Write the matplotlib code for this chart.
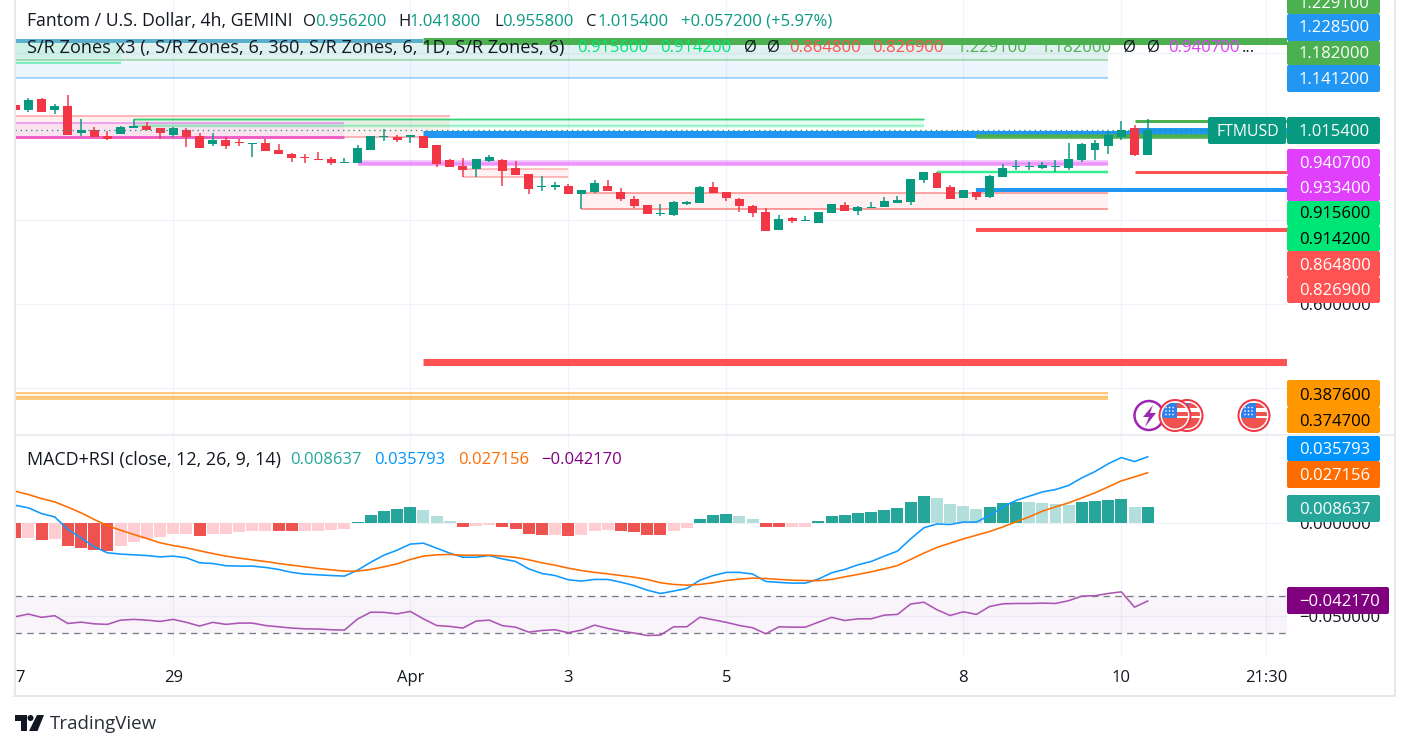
import matplotlib
matplotlib.use("Agg")
from matplotlib import pyplot as plt
from matplotlib.patches import Circle, FancyBboxPatch, Polygon, Rectangle

plt.rcParams['font.family'] = ['Open Sans', 'DejaVu Sans']

# candles, 4h bars, index 0 is the partly cut bar on the left edge
opens = [1.075, 1.064, 1.090, 1.064, 1.073, 1.009, 1.016, 1.001, 1.006, 1.021, 1.025, 1.021, 1.004, 1.016, 1.001,
         0.982, 0.992, 0.987, 0.982, 0.985, 0.968, 0.958, 0.951, 0.946, 0.946, 0.937, 0.937, 0.968, 0.999, 0.999,
         0.999, 1.001, 0.980, 0.944, 0.930, 0.923, 0.942, 0.944, 0.925, 0.911, 0.880, 0.880, 0.882, 0.863, 0.868,
         0.882, 0.868, 0.851, 0.837, 0.815, 0.813, 0.839, 0.841, 0.880, 0.868, 0.851, 0.834, 0.820, 0.777, 0.806,
         0.798, 0.794, 0.817, 0.837, 0.822, 0.829, 0.832, 0.841, 0.844, 0.896, 0.913, 0.880, 0.853, 0.868, 0.856,
         0.903, 0.927, 0.927, 0.925, 0.927, 0.925, 0.944, 0.968, 0.977, 0.999, 1.021, 0.9562]
highs = [1.075, 1.092, 1.092, 1.078, 1.099, 1.042, 1.023, 1.013, 1.025, 1.042, 1.035, 1.021, 1.023, 1.021, 1.009,
         1.009, 0.999, 0.994, 0.984, 0.994, 0.982, 0.961, 0.958, 0.963, 0.951, 0.949, 0.980, 1.001, 1.018, 1.004,
         1.004, 1.001, 0.980, 0.946, 0.949, 0.946, 0.956, 0.946, 0.942, 0.911, 0.906, 0.892, 0.887, 0.872, 0.896,
         0.896, 0.877, 0.858, 0.837, 0.839, 0.846, 0.846, 0.882, 0.892, 0.868, 0.853, 0.837, 0.829, 0.813, 0.808,
         0.810, 0.820, 0.839, 0.844, 0.834, 0.844, 0.856, 0.858, 0.899, 0.915, 0.915, 0.884, 0.872, 0.868, 0.908,
         0.935, 0.944, 0.939, 0.939, 0.944, 0.985, 0.985, 0.992, 1.011, 1.037, 1.028, 1.0418]
lows = [1.064, 1.059, 1.059, 1.054, 1.004, 1.001, 0.999, 0.992, 1.006, 1.021, 1.016, 0.994, 0.999, 0.975, 0.973,
        0.977, 0.970, 0.977, 0.951, 0.966, 0.958, 0.939, 0.937, 0.944, 0.932, 0.937, 0.937, 0.968, 0.989, 0.987,
        0.985, 0.973, 0.927, 0.927, 0.903, 0.903, 0.939, 0.882, 0.908, 0.863, 0.870, 0.872, 0.863, 0.827, 0.865,
        0.870, 0.846, 0.829, 0.815, 0.810, 0.810, 0.837, 0.841, 0.865, 0.846, 0.820, 0.808, 0.775, 0.777, 0.794,
        0.798, 0.794, 0.817, 0.822, 0.813, 0.829, 0.832, 0.841, 0.837, 0.889, 0.877, 0.851, 0.853, 0.849, 0.853,
        0.903, 0.920, 0.920, 0.923, 0.915, 0.920, 0.939, 0.944, 0.958, 0.992, 0.954, 0.9558]
closes = [1.064, 1.087, 1.059, 1.073, 1.004, 1.016, 0.999, 0.994, 1.023, 1.025, 1.016, 1.009, 1.021, 0.999, 0.973,
          0.992, 0.977, 0.985, 0.984, 0.966, 0.958, 0.949, 0.949, 0.944, 0.937, 0.939, 0.973, 1.001, 1.001, 0.992,
          1.004, 0.973, 0.935, 0.927, 0.920, 0.946, 0.951, 0.918, 0.908, 0.875, 0.882, 0.884, 0.863, 0.872, 0.889,
          0.870, 0.851, 0.834, 0.815, 0.817, 0.844, 0.844, 0.880, 0.865, 0.853, 0.834, 0.817, 0.775, 0.803, 0.798,
          0.801, 0.820, 0.839, 0.822, 0.832, 0.832, 0.846, 0.849, 0.899, 0.915, 0.877, 0.851, 0.872, 0.856, 0.906,
          0.925, 0.930, 0.930, 0.932, 0.930, 0.946, 0.982, 0.985, 1.004, 1.016, 0.956, 1.0154]
last_close = 1.0154

# macd pane
hist = [-0.0079, -0.0079, -0.0092, -0.0086, -0.0124, -0.0135, -0.0146, -0.0151, -0.0124, -0.0103, -0.0086, -0.0076,
        -0.0059, -0.0059, -0.0070, -0.0059, -0.0059, -0.0049, -0.0043, -0.0043, -0.0043, -0.0043, -0.0043, -0.0043,
        -0.0038, -0.0032, 0.0005, 0.0043, 0.0065, 0.0076, 0.0086, 0.0070, 0.0038, 0.0011, -0.0022, -0.0016, -0.0011,
        -0.0022, -0.0032, -0.0059, -0.0065, -0.0065, -0.0070, -0.0065, -0.0043, -0.0038, -0.0043, -0.0049, -0.0065,
        -0.0065, -0.0043, -0.0027, 0.0022, 0.0043, 0.0049, 0.0038, 0.0022, -0.0022, -0.0022, -0.0022, -0.0022, 0.0011,
        0.0038, 0.0043, 0.0054, 0.0059, 0.0070, 0.0081, 0.0113, 0.0146, 0.0135, 0.0103, 0.0092, 0.0076, 0.0086, 0.0108,
        0.0113, 0.0113, 0.0108, 0.0103, 0.0097, 0.0113, 0.0119, 0.0124, 0.0130, 0.0086, 0.008637]
# bars drawn in the strong shade, the others are pale
hist_strong = [0, 2, 4, 5, 6, 7, 14, 20, 21, 26, 27, 28, 29, 30, 34, 37, 38, 39, 40, 42, 46, 47, 48, 49, 52, 53, 54,
               57, 58, 61, 62, 63, 64, 65, 66, 67, 68, 69, 74, 75, 76, 81, 82, 83, 84, 86]
macd = [0.0096, 0.0082, 0.0051, 0.0033, -0.0035, -0.0080, -0.0129, -0.0161, -0.0168, -0.0172, -0.0176, -0.0183,
        -0.0179, -0.0188, -0.0215, -0.0219, -0.0231, -0.0233, -0.0233, -0.0240, -0.0251, -0.0267, -0.0276, -0.0280,
        -0.0284, -0.0287, -0.0255, -0.0212, -0.0174, -0.0147, -0.0114, -0.0109, -0.0136, -0.0163, -0.0185, -0.0185,
        -0.0176, -0.0194, -0.0208, -0.0248, -0.0273, -0.0284, -0.0307, -0.0314, -0.0305, -0.0305, -0.0320, -0.0338,
        -0.0363, -0.0381, -0.0368, -0.0354, -0.0309, -0.0284, -0.0267, -0.0267, -0.0276, -0.0316, -0.0321, -0.0325,
        -0.0325, -0.0303, -0.0269, -0.0251, -0.0226, -0.0208, -0.0179, -0.0152, -0.0086, -0.0026, -0.0005, -0.0008,
        0.0005, 0.0005, 0.0041, 0.0087, 0.0122, 0.0145, 0.0168, 0.0181, 0.0203, 0.0244, 0.0278, 0.0320, 0.0354, 0.0332,
        0.035793]
signal = [0.0172, 0.0154, 0.0132, 0.0114, 0.0086, 0.0055, 0.0019, -0.0014, -0.0039, -0.0062, -0.0084, -0.0107,
          -0.0122, -0.0134, -0.0150, -0.0165, -0.0179, -0.0190, -0.0199, -0.0208, -0.0219, -0.0228, -0.0237, -0.0246,
          -0.0253, -0.0260, -0.0260, -0.0251, -0.0237, -0.0221, -0.0197, -0.0179, -0.0172, -0.0170, -0.0174, -0.0174,
          -0.0174, -0.0179, -0.0186, -0.0199, -0.0215, -0.0228, -0.0244, -0.0257, -0.0267, -0.0275, -0.0284, -0.0293,
          -0.0305, -0.0323, -0.0332, -0.0336, -0.0332, -0.0323, -0.0311, -0.0303, -0.0298, -0.0300, -0.0305, -0.0309,
          -0.0311, -0.0312, -0.0305, -0.0291, -0.0278, -0.0264, -0.0248, -0.0230, -0.0197, -0.0163, -0.0132, -0.0109,
          -0.0086, -0.0066, -0.0046, -0.0021, 0.0006, 0.0033, 0.0064, 0.0087, 0.0109, 0.0136, 0.0163, 0.0195, 0.0228,
          0.0249, 0.027156]
rsi = [-0.0507, -0.0492, -0.0510, -0.0501, -0.0543, -0.0536, -0.0545, -0.0548, -0.0525, -0.0521, -0.0525, -0.0532,
       -0.0521, -0.0537, -0.0557, -0.0537, -0.0548, -0.0541, -0.0541, -0.0554, -0.0561, -0.0568, -0.0572, -0.0573,
       -0.0577, -0.0579, -0.0519, -0.0482, -0.0483, -0.0491, -0.0478, -0.0518, -0.0554, -0.0559, -0.0568, -0.0530,
       -0.0525, -0.0555, -0.0563, -0.0590, -0.0581, -0.0577, -0.0593, -0.0579, -0.0552, -0.0570, -0.0584, -0.0595,
       -0.0608, -0.0606, -0.0561, -0.0561, -0.0509, -0.0523, -0.0537, -0.0554, -0.0566, -0.0599, -0.0561, -0.0563,
       -0.0563, -0.0536, -0.0510, -0.0527, -0.0518, -0.0518, -0.0498, -0.0494, -0.0438, -0.0428, -0.0469, -0.0500,
       -0.0480, -0.0494, -0.0451, -0.0437, -0.0435, -0.0435, -0.0433, -0.0435, -0.0420, -0.0395, -0.0393, -0.0381,
       -0.0372, -0.0455, -0.04217]
rsi_upper = -0.0395
rsi_lower = -0.0592

# S/R zones: start bar, end bar, top, bottom, colour, alpha
zone_fills = [
    (-1, 83, 1.2285, 1.182, '#26a69a', 0.14),
    (-1, 8, 1.2285, 1.177, '#00e676', 0.08),
    (-1, 83, 1.182, 1.1412, '#2196f3', 0.08),
    (-1, 33, 1.049, 1.000, '#ff5252', 0.09),
    (-1, 25, 1.032, 1.000, '#e040fb', 0.08),
    (9, 69, 1.041, 1.025, '#00e676', 0.10),
    (26, 83, 0.9417, 0.9334, '#e040fb', 0.10),
    (34, 42, 0.923, 0.903, '#ff5252', 0.08),
    (43, 83, 0.8648, 0.8269, '#ff5252', 0.08),
    (-1, 83, 0.3876, 0.3747, '#ff9800', 0.10),
]
# S/R levels: start bar, end bar, price, colour, width in px, alpha
zone_lines = [
    (-1, 31, 1.2285, '#5ab0cc', 4, 1),
    (31, 97, 1.2291, '#4caf50', 7, 1),
    (-1, 83, 1.182, '#4caf50', 1.5, 0.5),
    (-1, 8, 1.177, '#00e676', 2, 0.45),
    (-1, 83, 1.1412, '#2196f3', 1.5, 0.5),
    (-1, 33, 1.049, '#ff5252', 1.5, 0.5),
    (25, 33, 1.000, '#ff5252', 1.5, 0.5),
    (-1, 25, 1.032, '#e040fb', 2, 0.4),
    (-1, 25, 1.000, '#ee5fc8', 3, 1),
    (9, 69, 1.041, '#00c853', 3, 0.25),
    (9, 69, 1.041, '#00c853', 1.2, 0.7),
    (9, 69, 1.025, '#00e676', 2.5, 0.35),
    (31, 97, 1.006, '#2196f3', 7, 1),
    (85, 97, 1.016, '#2196f3', 5, 1),
    (73, 97, 1.0022, '#4caf50', 4.5, 1),
    (85, 97, 1.0365, '#4caf50', 3, 1),
    (26, 83, 0.9407, '#e040fb', 1.5, 0.35),
    (26, 83, 0.9334, '#e040fb', 3.5, 0.55),
    (34, 42, 0.923, '#ff5252', 1.5, 0.45),
    (34, 42, 0.903, '#ff5252', 1.5, 0.5),
    (43, 83, 0.8648, '#ff5252', 2, 0.5),
    (43, 83, 0.8269, '#ff5252', 2, 0.55),
    (70, 83, 0.9156, '#00e676', 2.5, 0.8),
    (73, 97, 0.8724, '#2196f3', 4, 1),
    (73, 97, 0.7768, '#ff5252', 4, 1),
    (85, 97, 0.9144, '#ff5252', 3, 1),
    (31, 97, 0.4614, '#ff5252', 7, 1),
    (-1, 83, 0.3876, '#ff9800', 2, 0.5),
    (-1, 83, 0.3747, '#ff9800', 4, 0.5),
]

time_ticks = [12, 30, 42, 54, 72, 84, 95]
time_labels = ['29', 'Apr', '3', '5', '8', '10', '21:30']
price_ticks = [0.4, 0.6, 0.8, 1.0, 1.2]
# the others sit fully behind the coloured labels
price_tick_labels = ['', '0.600000', '', '', '']
macd_ticks = [0, -0.05]
macd_tick_labels = ['0.000000', '\u22120.050000']

# right hand labels: text, centre y, top y, bottom y, fill, text colour
axis_labels = [
    ('1.229100', 3, -10, 14, '#4caf50', 'white'),
    ('1.228500', 27, 14, 41, '#2196f3', 'white'),
    ('1.182000', 52.5, 41, 65, '#4caf50', 'white'),
    ('1.141200', 78.5, 65, 92, '#2196f3', 'white'),
    ('1.015400', 130, 117, 144, '#089981', 'white'),
    ('0.940700', 162, 149, 175, '#e040fb', 'white'),
    ('0.933400', 187.5, 175, 201, '#e040fb', 'white'),
    ('0.915600', 213, 201, 226, '#00e676', 'black'),
    ('0.914200', 238.5, 226, 251, '#00e676', 'black'),
    ('0.864800', 264.5, 251, 277, '#ff5252', 'white'),
    ('0.826900', 289.5, 277, 303, '#ff5252', 'white'),
    ('0.387600', 394, 380, 407, '#ff9800', 'black'),
    ('0.374700', 420, 407, 433, '#ff9800', 'black'),
    ('0.035793', 448.5, 436, 461, '#0094ff', 'white'),
    ('0.027156', 474.5, 461, 488, '#ff6d00', 'white'),
    ('0.008637', 508, 495, 522, '#26a69a', 'white'),
]

W, H = 1410, 750
TEXT = '#131722'
GREEN = '#089981'
RED = '#f23645'
GRID = '#f0f3fa'
BORDER = '#e6e7ef'
# va='center' sits a bit high for this font
TEXT_DROP = 1.5


def px(width):
    return width * 0.72


def style_axes(ax):
    ax.set_xlim(-0.015, 96.58)
    for spine in ax.spines.values():
        spine.set_visible(False)
    ax.grid(True, color=GRID, lw=px(1.3))
    ax.set_axisbelow(True)
    ax.yaxis.tick_right()
    ax.tick_params(axis='y', length=0, pad=px(12), labelsize=12, labelcolor=TEXT)
    ax.tick_params(axis='x', length=0, labelsize=12, labelcolor=TEXT)
    ax.patch.set_alpha(0)


fig = plt.figure(figsize=(W / 100, H / 100), dpi=100, facecolor='white')
ax = fig.add_axes([15 / W, (H - 435) / H, 1272 / W, 435 / H])
ax_macd = fig.add_axes([15 / W, (H - 655) / H, 1272 / W, 219 / H])

# ---- price pane
style_axes(ax)
ax.set_ylim(0.2870, 1.3264)
ax.set_xticks(time_ticks)
ax.set_xticklabels([])
ax.set_yticks(price_ticks)
ax.set_yticklabels(price_tick_labels)

for start, end, top, bottom, color, alpha in zone_fills:
    ax.fill_between([start, end], bottom, top, color=color, alpha=alpha, lw=0, zorder=1)
for start, end, price, color, width, alpha in zone_lines:
    ax.plot([start, end], [price, price], color=color, lw=px(width), alpha=alpha,
            solid_capstyle='butt', zorder=2)

bars = range(len(closes))
colors = [GREEN if c >= o else RED for o, c in zip(opens, closes)]
ax.vlines(bars, lows, highs, colors=colors, lw=px(1.5), zorder=3)
ax.bar(bars, [abs(c - o) for o, c in zip(opens, closes)], bottom=[min(o, c) for o, c in zip(opens, closes)],
       width=0.68, color=colors, lw=0, zorder=3)
ax.axhline(last_close, color=GREEN, ls=(0, (1, 3)), lw=px(1.3), zorder=4)

# ---- macd pane
style_axes(ax_macd)
ax_macd.set_ylim(-0.07135, 0.04703)
ax_macd.set_xticks(time_ticks)
ax_macd.set_xticklabels(time_labels)
ax_macd.tick_params(axis='x', pad=px(15))
ax_macd.set_yticks(macd_ticks)
ax_macd.set_yticklabels(macd_tick_labels)

hist_colors = []
for i, value in enumerate(hist):
    if value >= 0:
        hist_colors.append('#26a69a' if i in hist_strong else '#b2dfdb')
    else:
        hist_colors.append('#ef5350' if i in hist_strong else '#ffcdd2')
ax_macd.bar(bars, hist, width=0.91, color=hist_colors, lw=0, zorder=2)
ax_macd.axhspan(rsi_lower, rsi_upper, color='#9c27b0', alpha=0.05, lw=0, zorder=1)
for level in (rsi_upper, rsi_lower):
    ax_macd.axhline(level, color='#787b86', lw=px(1.3), ls=(0, (5, 4)), zorder=1.5)
ax_macd.plot(bars, macd, color='#0d99ff', lw=px(1.6), zorder=3)
ax_macd.plot(bars, signal, color='#ff6d00', lw=px(1.6), zorder=3)
ax_macd.plot(bars, rsi, color='#ab56b5', lw=px(1.6), zorder=3)

# ---- everything that sits on top, in screen pixels
ov = fig.add_axes([0, 0, 1, 1], zorder=5)
ov.set_xlim(0, W)
ov.set_ylim(H, 0)
ov.axis('off')


def box(x0, y0, x1, y1, color):
    ov.add_patch(FancyBboxPatch((x0, y0), x1 - x0, y1 - y0, boxstyle='round,pad=0,rounding_size=2',
                                fc=color, ec='none', zorder=3))


def label(x, y, text, color=TEXT, size=12, ha='left'):
    ov.text(x, y + TEXT_DROP, text, color=color, fontsize=size, va='center', ha=ha, zorder=6)


# frame
ov.plot([14.5, 14.5], [0, 696], color=BORDER, lw=px(2))
ov.plot([14, 1395], [696, 696], color=BORDER, lw=px(2))
ov.plot([1395, 1395], [0, 696], color=BORDER, lw=px(2))
ov.plot([15, 1395], [435, 435], color=BORDER, lw=px(1.5))

for text, yc, top, bottom, fill, color in axis_labels:
    box(1287, top, 1380, bottom, fill)
    label(1299, yc, text, color)
box(1208, 117, 1286, 144, '#089981')
label(1247.5, 130, 'FTMUSD', 'white', size=11.4, ha='center')
box(1287, 587, 1389, 614, '#800080')
label(1299, 600, '\u22120.042170', 'white')

label(15, 676, '7')

# legends
label(27, 20, 'Fantom / U.S. Dollar, 4h, GEMINI', size=12.7)
for x, t in [(303, 'O'), (398, 'H'), (494, 'L'), (586, 'C')]:
    label(x, 20, t)
for x, t in [(315, '0.956200'), (410, '1.041800'), (502.5, '0.955800'), (598, '1.015400'),
             (681, '+0.057200 (+5.97%)')]:
    label(x, 20, t, GREEN)

label(27, 46, 'S/R Zones x3 (, S/R Zones, 6, 360, S/R Zones, 6, 1D, S/R Zones, 6)', size=13.1)
for x, t, c in [(577, '0.915600', '#00e676'), (660, '0.914200', '#00e676'), (744, '\u00d8', TEXT), (767, '\u00d8', TEXT),
                (789, '0.864800', '#ff5252'), (872, '0.826900', '#ff5252'), (957, '1.229100', '#4caf50'),
                (1041, '1.182000', '#4caf50'), (1123, '\u00d8', TEXT), (1147, '\u00d8', TEXT),
                (1168, '0.940700', '#e040fb'), (1242, '...', TEXT)]:
    label(x, 46, t, c)

label(27, 459, 'MACD+RSI (close, 12, 26, 9, 14)', size=12.9)
for x, t, c in [(290.5, '0.008637', '#26a69a'), (374, '0.035793', '#0094ff'), (458, '0.027156', '#ff6d00'),
                (541.5, '\u22120.042170', '#800080')]:
    label(x, 459, t, c)


# event marks
def us_flag(cx, cy, z):
    ov.add_patch(Circle((cx, cy), 15.5, fc='white', ec=RED, lw=px(2), zorder=z))
    clip = Circle((cx, cy), 13, transform=ov.transData)
    parts = [
        Rectangle((cx - 13, cy - 13), 26, 5, fc='#ef5350', ec='none', zorder=z + 0.1),
        Rectangle((cx, cy - 3.5), 13, 4, fc='#ef5350', ec='none', zorder=z + 0.1),
        Rectangle((cx - 13, cy + 2.5), 26, 11, fc='#ef5350', ec='none', zorder=z + 0.1),
        Rectangle((cx - 13, cy - 13), 15, 15.5, fc='#2f80ed', ec='none', zorder=z + 0.2),
    ]
    for part in parts:
        ov.add_patch(part)
        part.set_clip_path(clip)
    # stars of the canton, just white specks
    for dy in (-8, -4.5, -1):
        for dx in (-9, -5.5, -2):
            ov.add_patch(Circle((cx + dx, cy + dy), 0.8, fc='white', ec='none', zorder=z + 0.3))


us_flag(1187, 415.5, 2)
ov.add_patch(Circle((1149, 415.5), 14.5, fc='white', ec='#9c27b0', lw=px(2.5), zorder=2.5))
ov.add_patch(Polygon([(1153, 405), (1143, 417), (1149, 417), (1145, 427), (1156, 413), (1150, 413)],
                     fc='#9c27b0', ec='none', zorder=2.6))
us_flag(1175, 415.5, 2.7)
us_flag(1254, 415.5, 2)

# TradingView logo
ov.add_patch(Polygon([(15, 715), (27, 715), (27, 731), (20.5, 731), (20.5, 721), (15, 721)], fc=TEXT, ec='none'))
ov.add_patch(Circle((30.5, 718), 3, fc=TEXT, ec='none'))
ov.add_patch(Polygon([(37, 715), (44, 715), (37.5, 731), (29, 731)], fc=TEXT, ec='none'))
ov.text(50, 724, 'TradingView', color='#2a2e39', fontsize=13.5, va='center', ha='left')

fig.savefig('out.png', dpi=100)
